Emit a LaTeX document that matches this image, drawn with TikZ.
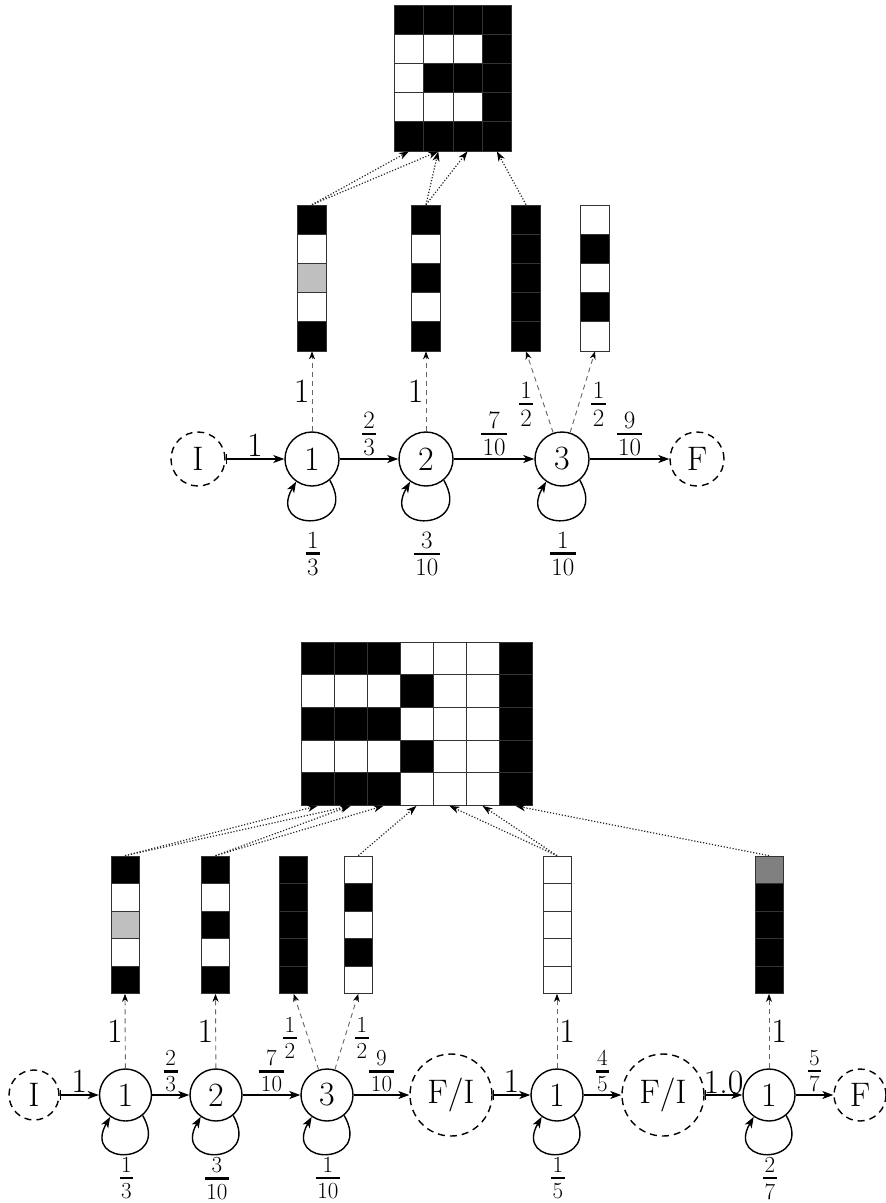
\documentclass[tikz,border=0pt]{standalone}
\usetikzlibrary{arrows.meta}
% stacked fraction: numerator, thick bar, denominator (optional font size)
\newcommand\fr[3][25]{{\fontsize{#1}{#1}\selectfont
  \setbox0=\hbox{#2}\setbox2=\hbox{#3}%
  \dimen0=\wd0 \ifdim\wd2>\dimen0 \dimen0=\wd2\fi
  \advance\dimen0 by 3pt
  \vbox{\offinterlineskip
    \hbox to\dimen0{\hss\box0\hss}\vskip 4.2pt
    \hrule height 2.4pt
    \vskip 4.2pt
    \hbox to\dimen0{\hss\box2\hss}}}}
\newcommand\bigfont{\fontsize{34}{40}\selectfont}
\tikzset{
  state/.style={circle, draw, line width=1.4pt, minimum size=54pt, inner sep=0pt, font=\bigfont},
  term/.style={state, dash pattern=on 7pt off 5pt},
  cellA/.style={rectangle, draw=black!80, line width=0.7pt, inner sep=0pt,
    minimum width=29.3pt, minimum height=29.2pt, fill=#1},
  cellB/.style={cellA=#1, minimum width=33pt, minimum height=32.7pt},
  cellC/.style={cellA=#1, minimum width=28pt, minimum height=27.5pt},
  trans/.style={line width=1.4pt, -{Stealth[length=11pt,width=8pt,inset=3pt]}},
  fromterm/.style={line width=1.4pt, {Bar[width=10pt]}-{Stealth[length=11pt,width=8pt,inset=3pt]}},
  emit/.style={draw=black!60, line width=0.9pt, dash pattern=on 5pt off 4pt,
    -{Stealth[length=8pt,width=6pt,inset=2.5pt,color=black]}},
  map/.style={draw=black!85, line width=1.2pt, dash pattern=on 1.2pt off 1.8pt,
    -{Stealth[length=10pt,width=7pt,inset=3pt,color=black]}},
  lab/.style={font=\bigfont, inner sep=2pt},
}
\begin{document}
\begin{tikzpicture}[x=1pt, y=-1pt]
\useasboundingbox (0,0) rectangle (886,1203);

% ---------- upper model ----------
% observed image, 4 x 5
\foreach \row [count=\r] in {{black,black,black,black},{white,white,white,black},
    {white,black,black,black},{white,white,white,black},{black,black,black,black}}{
  \foreach \f [count=\c] in \row {
    \node[cellA=\f] (tg-\r-\c) at ({394.3+29.3*(\c-0.5)},{5+29.2*(\r-0.5)}) {};
  }
}
% emission columns
\foreach \x/\cols [count=\k] in {312/{black,white,black!25,white,black},
    426/{black,white,black,white,black},526/{black,black,black,black,black},
    595/{white,black,white,black,white}}{
  \foreach \f [count=\i] in \cols {
    \node[cellA=\f] (tc-\k-\i) at (\x,{205+29.2*(\i-0.5)}) {};
  }
}
% states
\node[term]  (tI) at (198,459) {I};
\node[state] (t1) at (312,459) {1};
\node[state] (t2) at (426,459) {2};
\node[state] (t3) at (562,459) {3};
\node[term]  (tF) at (697,459) {F};

\draw[fromterm] (tI) -- node[lab, above]{1} (t1);
\draw[trans] (t1) -- node[lab, above]{\fr{2}{3}} (t2);
\draw[trans] (t2) -- node[lab, above]{\fr{7}{10}} (t3);
\draw[trans] (t3) -- node[lab, above]{\fr{9}{10}} (tF);

% self loops (y axis points down, so +60 deg is down-right)
\draw[trans] (t1.-50) .. controls +(60:60) and +(120:60) .. (t1.-125)
  node[lab, midway, below=9pt]{\fr{1}{3}};
\draw[trans] (t2.-50) .. controls +(60:60) and +(120:60) .. (t2.-125)
  node[lab, midway, below=9pt]{\fr{3}{10}};
\draw[trans] (t3.-50) .. controls +(60:60) and +(120:60) .. (t3.-125)
  node[lab, midway, below=9pt]{\fr{1}{10}};

\draw[emit] (t1) -- node[lab, left]{1} (tc-1-5.south);
\draw[emit] (t2) -- node[lab, left]{1} (tc-2-5.south);
\draw[emit] (t3) -- node[lab, pos=0.35, left=10pt, inner sep=0pt]{\fr{1}{2}} (tc-3-5.south);
\draw[emit] (t3) -- node[lab, pos=0.35, right=12pt, inner sep=0pt]{\fr{1}{2}} (tc-4-5.south);

\draw[map] (tc-1-1.north) -- (tg-5-1.south);
\draw[map] (tc-1-1.north) -- (tg-5-2.south);
\draw[map] (tc-2-1.north) -- (tg-5-2.south);
\draw[map] (tc-2-1.north) -- (tg-5-3.south);
\draw[map] (tc-3-1.north) -- (tg-5-4.south);

% ---------- lower model ----------
\foreach \row [count=\r] in {{black,black,black,white,white,white,black},
    {white,white,white,black,white,white,black},{black,black,black,white,white,white,black},
    {white,white,white,black,white,white,black},{black,black,black,white,white,white,black}}{
  \foreach \f [count=\c] in \row {
    \node[cellB=\f] (bg-\r-\c) at ({301+33*(\c-0.5)},{642+32.7*(\r-0.5)}) {};
  }
}
\foreach \x/\cols [count=\k] in {125/{black,white,black!25,white,black},
    215.5/{black,white,black,white,black},293.7/{black,black,black,black,black},
    358.3/{white,black,white,black,white},557/{white,white,white,white,white},
    769/{black!50,black,black,black,black}}{
  \foreach \f [count=\i] in \cols {
    \node[cellC=\f] (bc-\k-\i) at (\x,{856+27.5*(\i-0.5)}) {};
  }
}
\node[term, minimum size=50pt]  (bI)  at (34,1095) {I};
\node[state, minimum size=52pt] (b1)  at (125.5,1095) {1};
\node[state, minimum size=52pt] (b2)  at (216,1095) {2};
\node[state, minimum size=52pt] (b3)  at (327,1095) {3};
\node[term, minimum size=82pt]  (bX1) at (451,1095) {F/I};
\node[state, minimum size=52pt] (b4)  at (557,1095) {1};
\node[term, minimum size=82pt]  (bX2) at (663,1095) {F/I};
\node[state, minimum size=52pt] (b5)  at (769,1095) {1};
\node[term, minimum size=52pt]  (bF)  at (860,1095) {F};

\draw[fromterm] (bI) -- node[lab, above]{1} (b1);
\draw[trans] (b1) -- node[lab, above]{\fr[23]{2}{3}} (b2);
\draw[trans] (b2) -- node[lab, above]{\fr[23]{7}{10}} (b3);
\draw[trans] (b3) -- node[lab, above]{\fr[23]{9}{10}} (bX1);
\draw[fromterm] (bX1) -- node[lab, above]{1} (b4);
\draw[trans] (b4) -- node[lab, above]{\fr[23]{4}{5}} (bX2);
\draw[fromterm] (bX2) -- node[lab, above, inner sep=0pt]{1.0} (b5);
\draw[trans] (b5) -- node[lab, above]{\fr[23]{5}{7}} (bF);

\draw[trans] (b1.-50) .. controls +(60:58) and +(120:58) .. (b1.-125)
  node[lab, midway, below=1pt]{\fr[23]{1}{3}};
\draw[trans] (b2.-50) .. controls +(60:58) and +(120:58) .. (b2.-125)
  node[lab, midway, below=1pt]{\fr[23]{3}{10}};
\draw[trans] (b3.-50) .. controls +(60:58) and +(120:58) .. (b3.-125)
  node[lab, midway, below=1pt]{\fr[23]{1}{10}};
\draw[trans] (b4.-50) .. controls +(60:58) and +(120:58) .. (b4.-125)
  node[lab, midway, below=1pt]{\fr[23]{1}{5}};
\draw[trans] (b5.-50) .. controls +(60:58) and +(120:58) .. (b5.-125)
  node[lab, midway, below=1pt]{\fr[23]{2}{7}};

\draw[emit] (b1) -- node[lab, left]{1} (bc-1-5.south);
\draw[emit] (b2) -- node[lab, left]{1} (bc-2-5.south);
\draw[emit] (b3) -- node[lab, pos=0.42, left=11pt, inner sep=0pt]{\fr[23]{1}{2}} (bc-3-5.south);
\draw[emit] (b3) -- node[lab, pos=0.42, right=10pt, inner sep=0pt]{\fr[23]{1}{2}} (bc-4-5.south);
\draw[emit] (b4) -- node[lab, right]{1} (bc-5-5.south);
\draw[emit] (b5) -- node[lab, right]{1} (bc-6-5.south);

\draw[map] (bc-1-1.north) -- (bg-5-1.south);
\draw[map] (bc-1-1.north) -- (bg-5-2.south);
\draw[map] (bc-2-1.north) -- (bg-5-2.south);
\draw[map] (bc-2-1.north) -- (bg-5-3.south);
\draw[map] (bc-4-1.north) -- (bg-5-4.south);
\draw[map] (bc-5-1.north) -- (bg-5-5.south);
\draw[map] (bc-5-1.north) -- (bg-5-6.south);
\draw[map] (bc-6-1.north) -- (bg-5-7.south);
\end{tikzpicture}
\end{document}
